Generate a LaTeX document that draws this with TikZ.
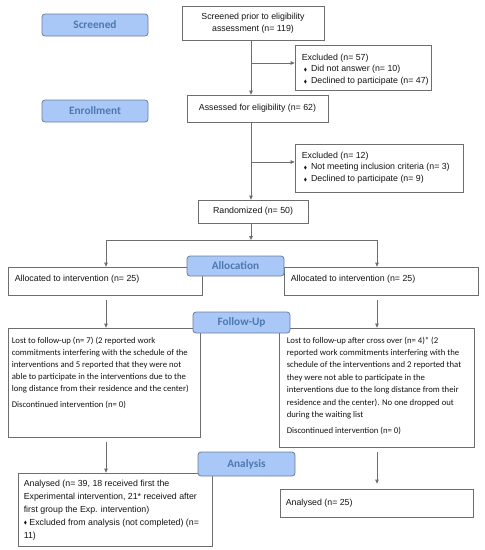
\documentclass[tikz,border=0pt]{standalone}
\usepackage{fontspec}
\setmainfont{Liberation Sans}
\newfontfamily\calfont{Carlito}
\usepackage{amssymb}
\usetikzlibrary{arrows.meta}
\definecolor{lblfill}{HTML}{A9C7F7}
\definecolor{lbldraw}{HTML}{6A7E9C}
\definecolor{lbltext}{HTML}{4C7AB0}
\definecolor{boxdraw}{HTML}{6E6E6E}
\definecolor{txtcol}{HTML}{141414}
\newcommand{\bul}{\raisebox{0.6pt}{\scalebox{0.55}{$\blacklozenge$}}}
\begin{document}
\begin{tikzpicture}[x=1pt,y=-1pt,
  box/.style={draw=boxdraw, line width=0.8pt, fill=white, inner sep=0pt},
  lbl/.style={draw=lbldraw, line width=0.8pt, fill=lblfill, rounded corners=3pt, inner sep=0pt,
    text=lbltext, font=\calfont\bfseries\fontsize{11.3}{13}\selectfont},
  atxt/.style={inner sep=0pt, text=txtcol, align=left, font=\fontsize{8.8}{11.8}\selectfont},
  btxt/.style={inner sep=0pt, text=txtcol, align=left, font=\fontsize{8.8}{13}\selectfont},
  ctxt/.style={inner sep=0pt, text=txtcol, align=center, font=\fontsize{8.8}{12.3}\selectfont},
  ktxt/.style={inner sep=0pt, text=txtcol, align=left, font=\calfont\fontsize{8.7}{12}\selectfont},
  kstxt/.style={inner sep=0pt, text=txtcol, align=left, font=\calfont\fontsize{8.7}{12.4}\selectfont},
  arr/.style={draw=boxdraw, line width=0.8pt, -{Triangle[length=4pt,width=3.6pt]}},
  ln/.style={draw=boxdraw, line width=0.8pt}]
\path[use as bounding box] (0,0) rectangle (485,550);

% boxes
\node[box, minimum width=142pt, minimum height=34pt] (scr) at (253,23) {};
\node[box, minimum width=136pt, minimum height=45pt] (exc1) at (363,67.5) {};
\node[box, minimum width=141pt, minimum height=27pt] (ass) at (257.5,108.5) {};
\node[box, minimum width=168pt, minimum height=48pt] (exc2) at (379,168) {};
\node[box, minimum width=110pt, minimum height=23pt] (rand) at (253,211.5) {};
\node[box, minimum width=194pt, minimum height=28pt] (allocL) at (105,281) {};
\node[box, minimum width=194pt, minimum height=28pt] (allocR) at (381,281) {};
\node[box, minimum width=192pt, minimum height=109pt] (followL) at (104,382.5) {};
\node[box, minimum width=195pt, minimum height=119pt] (followR) at (376.5,387.5) {};
\node[box, minimum width=194pt, minimum height=73pt] (anaL) at (115,509.5) {};
\node[box, minimum width=193pt, minimum height=28pt] (anaR) at (376.5,503) {};

% labels
\node[lbl, minimum width=106pt, minimum height=22pt] (lscr) at (95,25) {Screened};
\node[lbl, minimum width=106pt, minimum height=22pt] (lenr) at (95,111) {Enrollment};

% texts
\node[ctxt] (tscr) at (scr) {Screened prior to eligibility\\assessment (n= 119)};
\node[atxt, anchor=north west] (texc1) at ([shift={(7,9)}]exc1.north west)
  {Excluded (n= 57)\\ \hspace*{2pt}\bul\hspace{4pt}Did not answer (n= 10)\\ \hspace*{2pt}\bul\hspace{4pt}Declined to participate (n= 47)};
\node[ctxt] (tass) at (ass) {Assessed for eligibility (n= 62)};
\node[atxt, anchor=north west] (texc2) at ([shift={(7,8)}]exc2.north west)
  {Excluded (n= 12)\\ \hspace*{2pt}\bul\hspace{4pt}Not meeting inclusion criteria (n= 3)\\ \hspace*{2pt}\bul\hspace{4pt}Declined to participate (n= 9)};
\node[ctxt] (trand) at (rand) {Randomized (n= 50)};
\node[atxt, anchor=west] (tallocL) at ([shift={(7,-2)}]allocL.west) {Allocated to intervention (n= 25)};
\node[atxt, anchor=west] (tallocR) at ([shift={(7,-2)}]allocR.west) {Allocated to intervention (n= 25)};
\node[ktxt, anchor=north west] (tfolL) at ([shift={(4,9)}]followL.north west)
  {Lost to follow-up (n= 7) (2 reported work\\
   commitments interfering with the schedule of the\\
   interventions and 5 reported that they were not\\
   able to participate in the interventions due to the\\
   long distance from their residence and the center)\\[4pt]
   Discontinued intervention (n= 0)};
\node[kstxt, anchor=north west] (tfolR) at ([shift={(8,9)}]followR.north west)
  {Lost to follow-up after cross over (n= 4)* (2\\
   reported work commitments interfering with the\\
   schedule of the interventions and 2 reported that\\
   they were not able to participate in the\\
   interventions due to the long distance from their\\
   residence and the center). No one dropped out\\
   during the waiting list\\[4pt]
   Discontinued intervention (n= 0)};
\node[btxt, anchor=north west] (tanaL) at ([shift={(6,7)}]anaL.north west)
  {Analysed (n= 39, 18 received first the\\
   Experimental intervention, 21* received after\\
   first group the Exp. intervention)\\
   \bul\ Excluded from analysis (not completed) (n=\\
   11)};
\node[atxt, anchor=west] (tanaR) at ([shift={(6,0)}]anaR.west) {Analysed (n= 25)};

% connectors
\coordinate (m) at (251,0);
\coordinate (b1) at (251,63);
\coordinate (b2) at (251,162);
\coordinate (sp) at (251,240);
\coordinate (cl) at (106,240);
\coordinate (cr) at (377,240);
\draw[arr] (scr.south -| m) -- (ass.north -| m);
\draw[arr] (b1) -- (b1 -| exc1.west);
\draw[arr] (ass.south -| m) -- (rand.north -| m);
\draw[arr] (b2) -- (b2 -| exc2.west);
\draw[arr] (rand.south -| m) -- (sp);
\draw[ln] (cl) -- (cr);
\draw[arr] (cl) -- (cl |- allocL.north);
\draw[arr] (cr) -- (cr |- allocR.north);
\draw[arr, shorten <=5pt] (allocL.south -| cl) -- (followL.north -| cl);
\draw[arr, shorten <=5pt] (allocR.south -| cr) -- (followR.north -| cr);
\draw[arr, shorten <=5pt] (followL.south -| cl) -- (anaL.north -| cl);
\draw[arr, shorten <=5pt, shorten >=5pt] (followR.south -| cr) -- (anaR.north -| cr);

% phase labels drawn over the boxes
\node[lbl, minimum width=97pt, minimum height=20pt] (lall) at (235.5,266) {Allocation};
\node[lbl, minimum width=97pt, minimum height=21pt] (lfol) at (241.5,322.5) {Follow-Up};
\node[lbl, minimum width=97pt, minimum height=24pt] (lana) at (246.5,464) {Analysis};
\end{tikzpicture}
\end{document}
